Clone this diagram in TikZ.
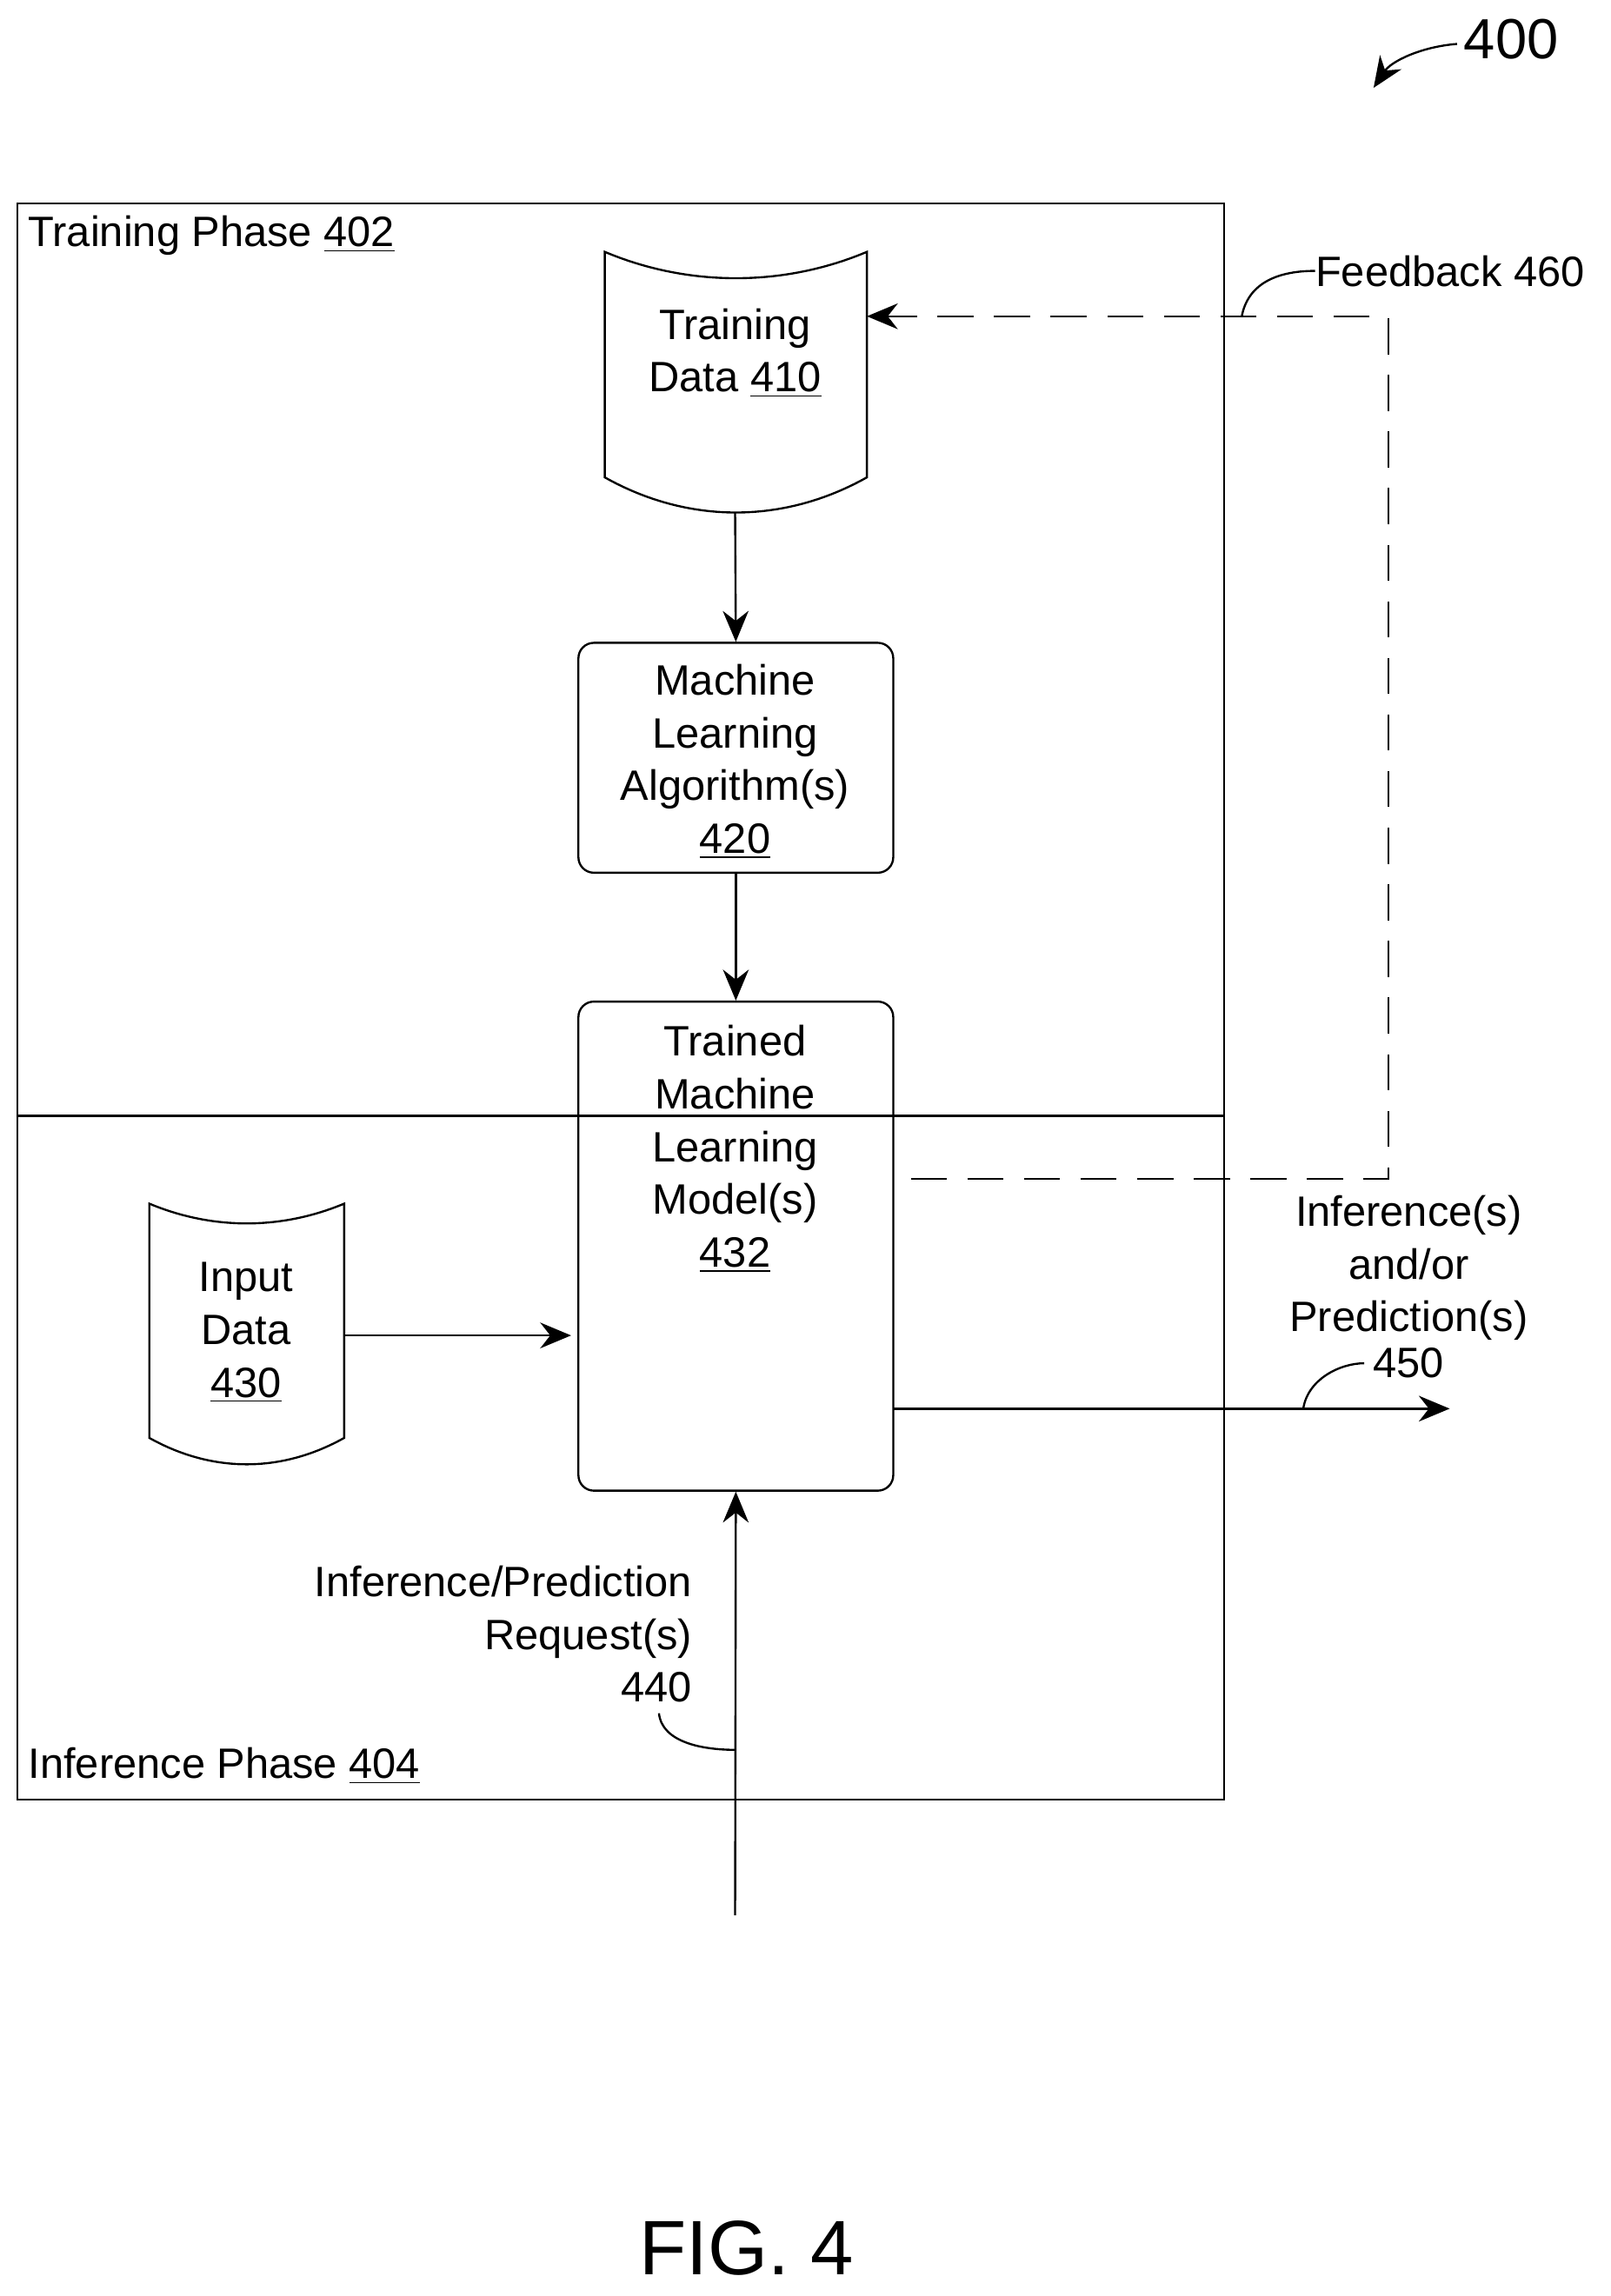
\documentclass[tikz,border=0pt]{standalone}
\usepackage{fontspec}
\setmainfont{Liberation Sans}
\usetikzlibrary{positioning,arrows.meta}
\tikzset{
  box/.style={draw, thick, rounded corners=6pt, align=center},
  txt/.style={align=center, font=\fontsize{16.5}{20.5}\selectfont},
  flow/.style={-{Stealth[length=12pt,width=10pt]}, thick},
}
\begin{document}
\begin{tikzpicture}[x=0.02cm,y=-0.02cm]
  \useasboundingbox (0,0) rectangle (1100,1568);
  % Phases
  \draw[thick] (12,139) rectangle (836,762);
  \draw[thick] (12,762) rectangle (836,1229);
  \node[txt, anchor=west, inner sep=0pt] (trainph) at (19,161) {Training Phase \underline{402}};
  \node[txt, anchor=west, inner sep=0pt] (infph) at (19,1206) {Inference Phase \underline{404}};

  % Cylinders
  \draw[thick] (413,172) .. controls (470,196) and (535,196) .. (592,172)
    -- (592,326) .. controls (535,358) and (470,358) .. (413,326) -- cycle;
  \node[txt] (train) at (502,241) {Training\\Data \underline{410}};
  \coordinate (trainbot) at (502,350);
  \coordinate (trainin) at (592,216);
  \draw[thick] (102,822) .. controls (145,840) and (192,840) .. (235,822)
    -- (235,982) .. controls (192,1006) and (145,1006) .. (102,982) -- cycle;
  \node[txt] (input) at (168,910) {Input\\Data\\\underline{430}};
  \coordinate (inputout) at (235,912);

  % Boxes
  \node[box, minimum width=215*0.02cm, minimum height=157*0.02cm] (algo) at (502.5,517.5) {};
  \node[txt] at (502,520) {Machine\\Learning\\Algorithm(s)\\\underline{420}};
  \node[box, minimum width=215*0.02cm, minimum height=334*0.02cm] (model) at (502.5,851) {};
  \node[txt, anchor=north] at (502,694) {Trained\\Machine\\Learning\\Model(s)\\\underline{432}};

  % Arrows
  \draw[flow] (trainbot) -- (algo.north);
  \draw[flow] (algo.south) -- (model.north);
  \draw[flow] (inputout) -- (390,912);
  \coordinate (outend) at (990,962);
  \draw[flow] (610,962) -- (outend);
  \coordinate (reqstart) at (502,1308);
  \draw[flow] (reqstart) -- (model.south);
  \draw[flow, dashed, dash pattern=on 14pt off 8pt] (622,805) -- (948,805) -- (948,216) -- (trainin);

  % Labels
  \node[txt, anchor=west, inner sep=0pt] (fb) at (898,185) {Feedback 460};
  \draw[thick] (848,216) .. controls (852,195) and (870,185) .. (fb.west);
  \node[txt] (inf) at (962,866) {Inference(s)\\and/or\\Prediction(s)};
  \node[txt] (n450) at (962,931) {450};
  \draw[thick] (890,962) .. controls (893,942) and (915,931) .. (n450.west);
  \node[txt, anchor=east, align=right, inner sep=0pt] (req) at (473,1116) {Inference/Prediction\\Request(s)\\440};
  \draw[thick] (450,1170) .. controls (452,1190) and (480,1195) .. (502,1195);
  \node[txt, font=\fontsize{22}{26}\selectfont] (fig) at (1032,27) {400};
  \draw[-{Stealth[length=12pt,width=10pt]}, thick] (995,30) .. controls (970,32) and (950,42) .. (938,60);
  \node[font=\fontsize{30}{36}\selectfont] (title) at (510,1535) {FIG. 4};
\end{tikzpicture}
\end{document}
